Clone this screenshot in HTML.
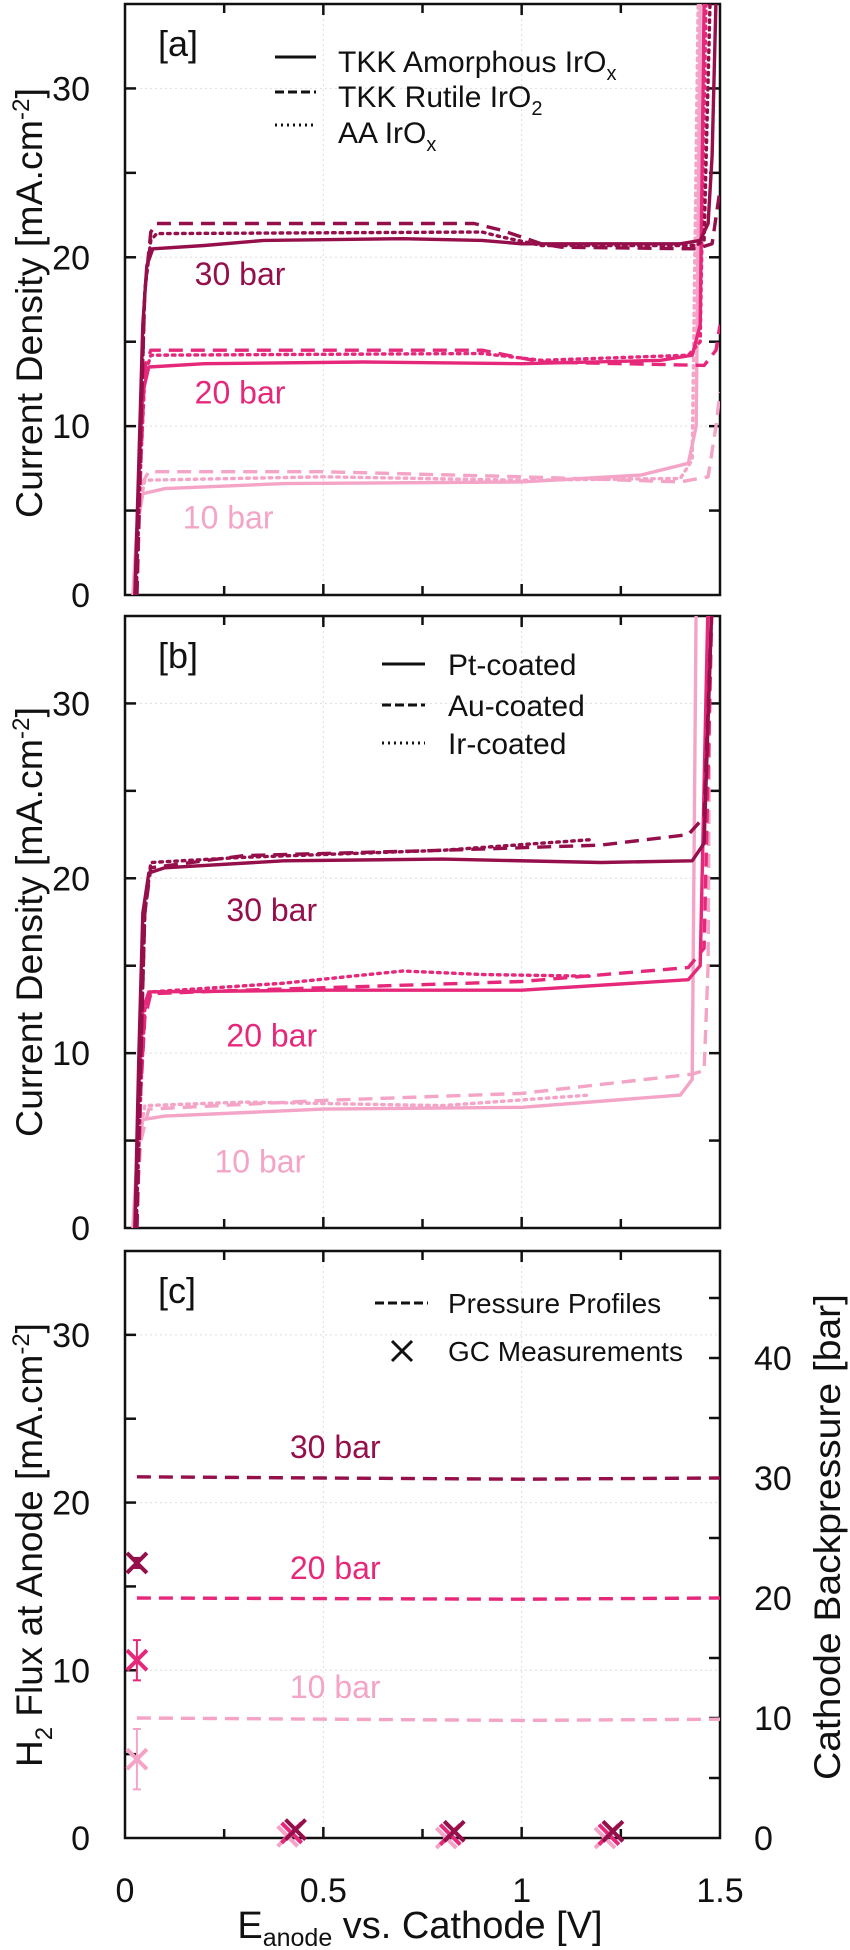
<!DOCTYPE html>
<html><head><meta charset="utf-8"><style>
html,body{margin:0;padding:0;background:#fff}
svg{display:block}
text{font-family:"Liberation Sans Narrow","Liberation Sans",sans-serif;fill:#111}
</style></head><body>
<svg id="fig" width="850" height="1950" viewBox="0 0 850 1950" xmlns="http://www.w3.org/2000/svg"></svg>
<script>
// ---------- data ----------
const xTicks = [0, 0.5, 1, 1.5];
const xTickLabels = ["0", "0.5", "1", "1.5"];
const yTicks = [0, 10, 20, 30];
const yTickLabels = ["0", "10", "20", "30"];
const rTicks = [0, 10, 20, 30, 40];
const rTickLabels = ["0", "10", "20", "30", "40"];
const pressureLabels = ["30 bar", "20 bar", "10 bar"];

// panel a
const a30solid = [[0.025,0],[0.035,8],[0.045,16],[0.055,19.5],[0.07,20.5],[0.2,20.7],[0.35,21.0],[0.7,21.1],[0.9,21.0],[1.0,20.8],[1.4,20.8],[1.45,21.0],[1.47,22],[1.48,26],[1.49,36]];
const a30dash = [[0.03,0],[0.04,10],[0.05,18],[0.065,21.5],[0.08,22.0],[0.5,22.0],[0.88,22.0],[0.95,21.6],[1.05,20.8],[1.1,20.6],[1.44,20.5],[1.48,20.8],[1.5,24]];
const a30dot = [[0.028,0],[0.04,10],[0.05,18],[0.065,21.0],[0.08,21.4],[0.9,21.5],[0.95,21.2],[1.05,20.7],[1.44,20.7],[1.46,21],[1.475,36]];
const a20solid = [[0.025,0],[0.035,7],[0.045,12],[0.06,13.5],[0.2,13.7],[0.6,13.8],[1.0,13.7],[1.35,13.9],[1.43,14.2],[1.45,16],[1.46,36]];
const a20dash = [[0.03,0],[0.04,8],[0.05,13.5],[0.065,14.5],[0.9,14.5],[1.05,13.8],[1.46,13.6],[1.49,14.5],[1.5,16]];
const a20dot = [[0.028,0],[0.04,8],[0.05,13],[0.065,14.2],[0.9,14.3],[1.05,13.9],[1.42,14.2],[1.45,15],[1.465,36]];
const a10solid = [[0.02,0],[0.03,4],[0.045,6.0],[0.1,6.3],[0.4,6.6],[1.0,6.7],[1.3,7.1],[1.42,7.8],[1.44,10],[1.45,36]];
const a10dash = [[0.025,0],[0.04,6.5],[0.06,7.3],[0.5,7.3],[1.0,7.0],[1.4,6.7],[1.47,7],[1.49,10],[1.5,12]];
const a10dot = [[0.022,0],[0.035,5],[0.05,6.8],[0.5,7.0],[1.0,6.8],[1.4,6.9],[1.43,8],[1.445,36]];

// panel b
const b30solid = [[0.025,0],[0.035,10],[0.045,18],[0.06,20.3],[0.1,20.6],[0.4,21.0],[0.8,21.1],[1.2,20.9],[1.43,21.0],[1.46,22],[1.48,36]];
const b30dash = [[0.03,0],[0.04,10],[0.05,18],[0.065,20.6],[0.3,21.3],[0.8,21.6],[1.2,21.9],[1.42,22.5],[1.46,23.5],[1.48,36]];
const b30dot = [[0.028,0],[0.04,10],[0.05,18],[0.065,20.9],[0.3,21.2],[0.8,21.6],[1.17,22.2]];
const b20solid = [[0.025,0],[0.035,8],[0.045,12.5],[0.06,13.5],[0.5,13.6],[1.0,13.6],[1.42,14.2],[1.45,15],[1.47,36]];
const b20dash = [[0.03,0],[0.04,8],[0.05,12],[0.065,13.4],[0.3,13.6],[1.0,14.1],[1.42,14.9],[1.46,16],[1.48,36]];
const b20dot = [[0.028,0],[0.04,8],[0.05,12.5],[0.065,13.5],[0.4,14.0],[0.7,14.7],[0.9,14.5],[1.17,14.4]];
const b10solid = [[0.02,0],[0.03,4],[0.045,6.2],[0.1,6.4],[0.5,6.8],[1.0,6.9],[1.4,7.6],[1.43,8.5],[1.44,36]];
const b10dash = [[0.025,0],[0.04,5],[0.06,6.8],[0.5,7.3],[1.0,7.7],[1.43,8.8],[1.46,9],[1.47,15],[1.475,36]];
const b10dot = [[0.022,0],[0.035,5],[0.05,7.0],[0.3,7.2],[0.8,7.0],[1.17,7.6]];

// panel c (pressure in bar on right axis, GC flux on left axis)
const p30 = [[0.03,30.1],[0.5,30.0],[1.0,29.9],[1.5,30.0]];
const p20 = [[0.03,20.0],[1.0,19.9],[1.5,20.0]];
const p10 = [[0.03,10.0],[1.0,9.8],[1.5,9.9]];
const gcX30 = [0.03, 0.43, 0.83, 1.23];
const gcX20 = [0.03, 0.42, 0.82, 1.22];
const gcX10 = [0.03, 0.41, 0.81, 1.21];
const gc30 = [16.4, 0.5, 0.4, 0.4];
const gc20 = [10.6, 0.3, 0.2, 0.2];
const gc10 = [4.7, 0.1, 0.0, 0.0];
const gcErr30 = [0.3, 0, 0, 0];
const gcErr20 = [1.2, 0, 0, 0];
const gcErr10 = [1.8, 0, 0, 0];

// ---------- drawing ----------
const C30 = "#950f4b", C20 = "#e6287b", C10 = "#f4a4c6";
const NS = "http://www.w3.org/2000/svg";
const svg = document.getElementById("fig");
const X0 = 125, X1 = 720;
const panels = [
  {id:"a", top:4, bottom:595},
  {id:"b", top:616, bottom:1228},
  {id:"c", top:1251, bottom:1838}
];
function el(tag, attrs, parent){
  const e = document.createElementNS(NS, tag);
  for (const k in attrs) e.setAttribute(k, attrs[k]);
  (parent || svg).appendChild(e);
  return e;
}
function sx(v){ return X0 + v / 1.5 * (X1 - X0); }
function syF(p){ return v => p.bottom - v / 35 * (p.bottom - p.top); }
function syR(p){ const perBar = 12; return v => p.bottom - v * perBar; }
function txt(s, x, y, size, anchor, fill, parent){
  const t = el("text", {x:x, y:y, "font-size":size, "text-anchor":anchor||"start"}, parent);
  if (fill) t.setAttribute("style", "fill:" + fill);
  t.textContent = s;
  return t;
}
const dashFor = {solid:"", dash:"14 8", dot:"2.5 5"};
function curve(data, sy, color, style, name, parent){
  const d = data.map((pt,i)=>(i?"L":"M")+sx(pt[0]).toFixed(1)+","+Math.max(0, sy(pt[1])).toFixed(1)).join(" ");
  const path = el("path", {d:d, fill:"none", stroke:color, "stroke-width":3.4, "stroke-linejoin":"round", "stroke-linecap": style==="dot"?"round":"butt"}, parent);
  if (dashFor[style]) path.setAttribute("stroke-dasharray", dashFor[style]);
  
  
  return path;
}

panels.forEach(p => {
  const g = el("g", {});
  
  
  const sy = syF(p);
  const cp = el("clipPath", {id:"clip"+p.id}, g);
  el("rect", {x:X0, y:p.top, width:X1-X0, height:p.bottom-p.top}, cp);
  [0.5, 1].forEach(v => el("line", {x1:sx(v), x2:sx(v), y1:p.top, y2:p.bottom, stroke:"#ddd", "stroke-width":1, "stroke-dasharray":"2 3"}, g));
  yTicks.slice(1).forEach(v => el("line", {x1:X0, x2:X1, y1:sy(v), y2:sy(v), stroke:"#ddd", "stroke-width":1, "stroke-dasharray":"2 3"}, g));
  for (let v = 0.25; v < 1.5; v += 0.25) {
    const len = (Math.abs(v % 0.5) < 1e-6) ? 11 : 9;
    el("line", {x1:sx(v), x2:sx(v), y1:p.bottom, y2:p.bottom-len, stroke:"#111", "stroke-width":2.5}, g);
    el("line", {x1:sx(v), x2:sx(v), y1:p.top, y2:p.top+len, stroke:"#111", "stroke-width":2.5}, g);
  }
  for (let v = 5; v < 35; v += 5) {
    el("line", {x1:X0, x2:X0+11, y1:sy(v), y2:sy(v), stroke:"#111", "stroke-width":2.5}, g);
    if (p.id !== "c") el("line", {x1:X1, x2:X1-11, y1:sy(v), y2:sy(v), stroke:"#111", "stroke-width":2.5}, g);
  }
  if (p.id === "c") {
    const sr = syR(p);
    for (let v = 5; v < 49; v += 5) el("line", {x1:X1, x2:X1-11, y1:sr(v), y2:sr(v), stroke:"#111", "stroke-width":2.5}, g);
    rTicks.forEach((v,i) => {
      const t = txt(rTickLabels[i], 754, sr(v)+12, 34, "start", null, g);
      
      
    });
  }
  yTicks.forEach((v,i) => {
    const t = txt(yTickLabels[i], 90, sy(v)+12, 34, "end", null, g);
    
    
  });
  const fr = el("rect", {x:X0, y:p.top, width:X1-X0, height:p.bottom-p.top, fill:"none", stroke:"#111", "stroke-width":2.5}, g);
  
  
  const tag = txt("[" + p.id + "]", 158, p.top + 52, 36, "start", null, g);
  
  
  p.g = g; p.sy = sy;
});

function vtitle(html, x, y, name, size, len){
  const t = el("text", {x:0, y:0, "font-size":size, "text-anchor":"middle", transform:"translate("+x+","+y+") rotate(-90)"});
  t.innerHTML = html;
  if (len) { t.setAttribute("textLength", len); t.setAttribute("lengthAdjust", "spacingAndGlyphs"); }
  
  
}
vtitle('Current Density [mA.cm<tspan dy="-13" font-size="24">-2</tspan><tspan dy="13">]</tspan>', 42, 303, 'y-axis-title-a', 37, 430);
vtitle('Current Density [mA.cm<tspan dy="-13" font-size="24">-2</tspan><tspan dy="13">]</tspan>', 42, 922, 'y-axis-title-b', 37, 430);
vtitle('H<tspan dy="10" font-size="24">2</tspan><tspan dy="-10"> Flux at Anode [mA.cm</tspan><tspan dy="-13" font-size="24">-2</tspan><tspan dy="13">]</tspan>', 42, 1545, 'y-axis-title-c', 37, 0);
vtitle('Cathode Backpressure [bar]', 840, 1537, 'right-axis-title', 37, 486);

xTicks.forEach((v,i) => {
  const t = txt(xTickLabels[i], sx(v), 1902, 34, "middle");
  
  
});
const xt = el("text", {x:420, y:1938, "font-size":38, "text-anchor":"middle"});
xt.innerHTML = 'E<tspan dy="8" font-size="25">anode</tspan><tspan dy="-8"> vs. Cathode [V]</tspan>';



const pa = panels[0], pb = panels[1], pc = panels[2];
const ga = el("g", {"clip-path":"url(#clipa)"}, pa.g);
curve(a10solid, pa.sy, C10, "solid", "a-10bar-amorphous", ga);
curve(a10dash, pa.sy, C10, "dash", "a-10bar-rutile", ga);
curve(a10dot, pa.sy, C10, "dot", "a-10bar-aa", ga);
curve(a20solid, pa.sy, C20, "solid", "a-20bar-amorphous", ga);
curve(a20dash, pa.sy, C20, "dash", "a-20bar-rutile", ga);
curve(a20dot, pa.sy, C20, "dot", "a-20bar-aa", ga);
curve(a30solid, pa.sy, C30, "solid", "a-30bar-amorphous", ga);
curve(a30dash, pa.sy, C30, "dash", "a-30bar-rutile", ga);
curve(a30dot, pa.sy, C30, "dot", "a-30bar-aa", ga);

const gb = el("g", {"clip-path":"url(#clipb)"}, pb.g);
curve(b10solid, pb.sy, C10, "solid", "b-10bar-pt", gb);
curve(b10dash, pb.sy, C10, "dash", "b-10bar-au", gb);
curve(b10dot, pb.sy, C10, "dot", "b-10bar-ir", gb);
curve(b20solid, pb.sy, C20, "solid", "b-20bar-pt", gb);
curve(b20dash, pb.sy, C20, "dash", "b-20bar-au", gb);
curve(b20dot, pb.sy, C20, "dot", "b-20bar-ir", gb);
curve(b30solid, pb.sy, C30, "solid", "b-30bar-pt", gb);
curve(b30dash, pb.sy, C30, "dash", "b-30bar-au", gb);
curve(b30dot, pb.sy, C30, "dot", "b-30bar-ir", gb);

const gc = el("g", {"clip-path":"url(#clipc)"}, pc.g);
const sr = syR(pc);
curve(p30, sr, C30, "dash", "pressure-30bar", gc);
curve(p20, sr, C20, "dash", "pressure-20bar", gc);
curve(p10, sr, C10, "dash", "pressure-10bar", gc);
function gcMarks(xs, vals, errs, color, name){
  xs.forEach((xv,i) => {
    const cx = sx(xv), cy = pc.sy(vals[i]), s = 10;
    const g = el("g", {stroke:color, "stroke-width":4}, pc.g);
    
    
    el("line", {x1:cx-s, y1:cy-s, x2:cx+s, y2:cy+s}, g);
    el("line", {x1:cx-s, y1:cy+s, x2:cx+s, y2:cy-s}, g);
    if (errs[i] > 0) {
      const e = el("g", {stroke:color, "stroke-width":2}, pc.g);
      el("line", {x1:cx, x2:cx, y1:pc.sy(vals[i]-errs[i]), y2:pc.sy(vals[i]+errs[i])}, e);
      el("line", {x1:cx-4, x2:cx+4, y1:pc.sy(vals[i]-errs[i]), y2:pc.sy(vals[i]-errs[i])}, e);
      el("line", {x1:cx-4, x2:cx+4, y1:pc.sy(vals[i]+errs[i]), y2:pc.sy(vals[i]+errs[i])}, e);
    }
  });
}
gcMarks(gcX10, gc10, gcErr10, C10, "gc-10bar");
gcMarks(gcX20, gc20, gcErr20, C20, "gc-20bar");
gcMarks(gcX30, gc30, gcErr30, C30, "gc-30bar");

const labPos = {
  a: [[0.29,19.0],[0.29,12.0],[0.26,4.6]],
  b: [[0.37,18.2],[0.37,11.0],[0.34,3.8]],
  c: [[0.53,23.3],[0.53,16.1],[0.53,9.0]]
};
const cols = [C30, C20, C10];
panels.forEach(p => {
  labPos[p.id].forEach((pos,i) => {
    const t = txt(pressureLabels[i], sx(pos[0]), p.sy(pos[1]) + 11, 32, "middle", cols[i], p.g);
    
    
  });
});

function legendLine(g, x1, x2, y, style){
  const l = el("line", {x1:x1, x2:x2, y1:y, y2:y, stroke:"#111", "stroke-width":3}, g);
  if (dashFor[style]) l.setAttribute("stroke-dasharray", style==="dash"?"9 4":"2 4");
}
const la = el("g", {});  
legendLine(la, 275, 316, 57, "solid");
legendLine(la, 275, 316, 92, "dash");
legendLine(la, 275, 316, 125, "dot");
let t1 = el("text", {x:338, y:72, "font-size":30}, la); t1.innerHTML = 'TKK Amorphous IrO<tspan dy="8" font-size="20">x</tspan>';
let t2 = el("text", {x:338, y:107, "font-size":30}, la); t2.innerHTML = 'TKK Rutile IrO<tspan dy="8" font-size="20">2</tspan>';
let t3 = el("text", {x:338, y:143, "font-size":30}, la); t3.innerHTML = 'AA IrO<tspan dy="8" font-size="20">x</tspan>';

const lb = el("g", {});  
legendLine(lb, 382, 425, 664, "solid");
legendLine(lb, 382, 425, 705, "dash");
legendLine(lb, 382, 425, 743, "dot");
txt("Pt-coated", 448, 675, 30, "start", null, lb);
txt("Au-coated", 448, 716, 30, "start", null, lb);
txt("Ir-coated", 448, 754, 30, "start", null, lb);

const lc = el("g", {});  
legendLine(lc, 375, 428, 1303, "dash");
el("line", {x1:392, y1:1341, x2:412, y2:1361, stroke:"#111", "stroke-width":3}, lc);
el("line", {x1:392, y1:1361, x2:412, y2:1341, stroke:"#111", "stroke-width":3}, lc);
txt("Pressure Profiles", 448, 1313, 28, "start", null, lc);
txt("GC Measurements", 448, 1361, 28, "start", null, lc);
</script>
</body></html>
